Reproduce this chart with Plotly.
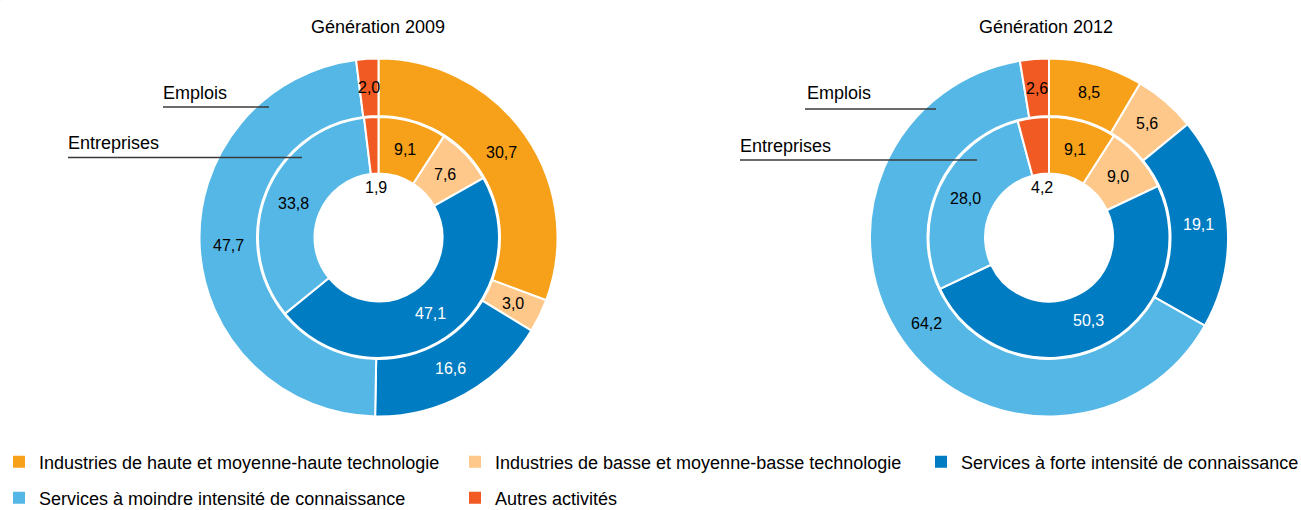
import math
import plotly.graph_objects as go

W, H = 1301, 510

# ---------------- data ----------------
categories = [
    "Industries de haute et moyenne-haute technologie",
    "Industries de basse et moyenne-basse technologie",
    "Services à forte intensité de connaissance",
    "Services à moindre intensité de connaissance",
    "Autres activités",
]
titles = ["Génération 2009", "Génération 2012"]
ring_names = ["Emplois", "Entreprises"]

emplois_2009 = [30.7, 3.0, 16.6, 47.7, 2.0]
entreprises_2009 = [9.1, 7.6, 47.1, 33.8, 1.9]
emplois_2012 = [8.5, 5.6, 19.1, 64.2, 2.6]
entreprises_2012 = [9.1, 9.0, 50.3, 28.0, 4.2]

# ---------------- style ----------------
colors = ["#F7A11A", "#FDC88A", "#007CC2", "#55B7E6", "#F15A22"]
label_colors = ["#000000", "#000000", "#FFFFFF", "#000000", "#000000"]
FONT = "Liberation Sans, Arial, sans-serif"

centers = [(378.5, 237.5), (1049.0, 237.5)]
R_OUT, R_OUT_HOLE = 179.0, 121.5
R_IN, R_IN_HOLE = 120.5, 64.0
LBL_R_OUT, LBL_R_IN, LBL_R_HOLE = 150.0, 92.0, 50.0


def dom(cx, cy, r):
    return dict(x=[(cx - r) / W, (cx + r) / W], y=[1 - (cy + r) / H, 1 - (cy - r) / H])


def px(x, y):
    return x / W, 1 - y / H


fig = go.Figure()
annotations = []


def add_labels(values, cx, cy, r_lbl, small_in_hole):
    total = sum(values)
    cum = 0.0
    for k, v in enumerate(values):
        mid = (cum + v / 2) / total * 2 * math.pi
        cum += v
        r = r_lbl
        if small_in_hole and v / total < 0.05:
            r = LBL_R_HOLE
        x = cx + r * math.sin(mid)
        y = cy - r * math.cos(mid)
        ax, ay = px(x, y)
        annotations.append(dict(
            x=ax, y=ay, xref="paper", yref="paper", showarrow=False,
            text=f"{v:.1f}".replace(".", ","),
            font=dict(family=FONT, size=16, color=label_colors[k]),
            xanchor="center", yanchor="middle"))


series = [(emplois_2009, entreprises_2009), (emplois_2012, entreprises_2012)]
for i, (outer, inner) in enumerate(series):
    cx, cy = centers[i]
    fig.add_trace(go.Pie(
        labels=categories, values=outer, sort=False, direction="clockwise",
        rotation=0, hole=R_OUT_HOLE / R_OUT, domain=dom(cx, cy, R_OUT),
        marker=dict(colors=colors, line=dict(color="white", width=2)),
        textinfo="none", showlegend=False, name=f"{ring_names[0]} {titles[i]}"))
    fig.add_trace(go.Pie(
        labels=categories, values=inner, sort=False, direction="clockwise",
        rotation=0, hole=R_IN_HOLE / R_IN, domain=dom(cx, cy, R_IN),
        marker=dict(colors=colors, line=dict(color="white", width=2)),
        textinfo="none", showlegend=False, name=f"{ring_names[1]} {titles[i]}"))
    add_labels(outer, cx, cy, LBL_R_OUT, False)
    add_labels(inner, cx, cy, LBL_R_IN, True)

# titles
title_pos = [(378, 27), (1046, 27)]
for t, (x, y) in zip(titles, title_pos):
    ax, ay = px(x, y)
    annotations.append(dict(x=ax, y=ay, xref="paper", yref="paper", showarrow=False,
                            text=t, font=dict(family=FONT, size=18, color="#000"),
                            xanchor="center", yanchor="middle"))

# ring leader labels + lines
leaders = [
    # (text, text_x, text_y, line_x0, line_x1, line_y)
    (ring_names[0], 163, 93, 163, 269, 107),
    (ring_names[1], 68, 143, 68, 302, 157.5),
    (ring_names[0], 807, 93, 805, 936, 109),
    (ring_names[1], 740, 146, 740, 977, 160),
]
shapes = []
for txt, tx, ty, lx0, lx1, ly in leaders:
    ax, ay = px(tx - 2, ty)
    annotations.append(dict(x=ax, y=ay, xref="paper", yref="paper", showarrow=False,
                            text=txt, font=dict(family=FONT, size=18, color="#000"),
                            xanchor="left", yanchor="middle"))
    x0, y0 = px(lx0, ly)
    x1, _ = px(lx1, ly)
    shapes.append(dict(type="line", xref="paper", yref="paper", x0=x0, x1=x1, y0=y0, y1=y0,
                       line=dict(color="#3a3a3a", width=1.3)))

# legend: one entry per category, each in its own legend box for exact placement
legend_pos = [(-1, 462), (455, 462), (921, 462), (-1, 498), (455, 498)]
layout_legends = {}
for k, cat in enumerate(categories):
    lid = "legend" if k == 0 else f"legend{k + 1}"
    fig.add_trace(go.Pie(
        labels=[cat], values=[1], sort=False,
        marker=dict(colors=[colors[k]], line=dict(width=0)),
        domain=dict(x=[0, 0.0002], y=[0.9996, 1]),
        textinfo="none", hoverinfo="skip", showlegend=True, legend=lid))
    lx, ly = px(*legend_pos[k])
    layout_legends[lid] = dict(x=lx, y=ly, xanchor="left", yanchor="middle",
                               orientation="h", bgcolor="rgba(0,0,0,0)",
                               font=dict(family=FONT, size=18, color="#000"))

fig.update_layout(
    width=W, height=H,
    margin=dict(l=0, r=0, t=0, b=0, autoexpand=False),
    paper_bgcolor="white", plot_bgcolor="white",
    font=dict(family=FONT),
    annotations=annotations, shapes=shapes,
    **layout_legends,
)

fig.write_html("out.html")
